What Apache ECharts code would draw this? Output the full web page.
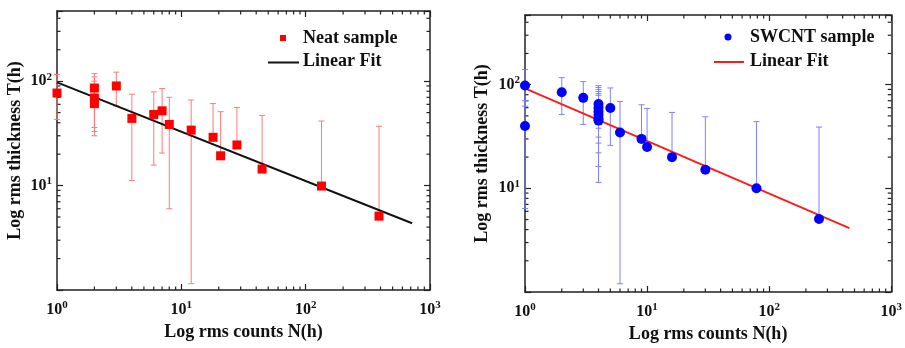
<!DOCTYPE html>
<html><head><meta charset="utf-8">
<script src="https://cdn.jsdelivr.net/npm/echarts@6/dist/echarts.min.js"></script>
<style>html,body{margin:0;padding:0;background:#fff}#c{width:905px;height:348px}</style>
</head><body><div id="c"></div>
<script>
// ---------- data ----------
const xRange = [1, 1000];
const yRange = [1, 470];
const xMinorTicks = [2,3,4,5,6,7,8,9,20,30,40,50,60,70,80,90,200,300,400,500,600,700,800,900];
const yMinorTicks = [2,3,4,5,6,7,8,9,20,30,40,50,60,70,80,90,200,300,400];

// Left panel: Neat sample
const neatX       = [1, 2, 2, 2, 3, 4, 6, 7, 8, 12, 18, 20.7, 28, 44.6, 134, 389];
const neatY       = [77, 86, 69, 61, 90, 44, 48, 52, 38.5, 34, 29, 19.3, 24.5, 14.4, 9.9, 5.1];
const neatErrLow  = [43, 36, 33, 30, 58, 11.2, 15.7, 20.5, 6, 1.15, null, null, null, null, null, null];
const neatErrHigh = [116, 118, 110, 100, 122, 75, 79, 85, 70, 66, 61, 51, 56, 47, 41.5, 37];
const neatFitX = [1, 718];
const neatFitY = [97.5, 4.36];

// Right panel: SWCNT sample
const swX       = [1, 1, 2, 3, 4, 4, 4, 4, 4, 4, 5, 6, 9, 10, 16, 30, 78.7, 256];
const swY       = [98, 40, 84.5, 74.6, 65, 60, 55, 51, 47, 45, 59.6, 34.5, 30, 25, 20, 15.1, 10, 5.06];
const swErrLow  = [62, 6.4, 51.5, 41.4, 38, 31.2, 27.3, 22, 16.2, 11.4, 26, 1.2, null, null, null, null, null, null];
const swErrHigh = [140, 70, 117, 107, 98, 94, 90, 86, 82, 79, 93, 69, 64, 59, 54, 49, 44, 39];
const swFitX = [1, 454];
const swFitY = [92, 4.13];

const xTitle = 'Log rms counts N(h)';
const yTitle = 'Log rms thickness T(h)';
const neatName = 'Neat sample', swName = 'SWCNT sample', fitName = 'Linear Fit';

// ---------- helpers ----------
const FONT = '"Liberation Serif", "Times New Roman", serif';
const INK = '#111';
const zip = (a, b) => a.map((v, i) => [v, b[i]]);

function powLabel(hideOne) {
  return function (v) {
    const l = Math.log10(v);
    const e = Math.round(l);
    if (Math.abs(l - e) > 1e-6) return '';
    if (hideOne && e === 0) return '';
    return '10{s|' + e + '}';
  };
}
const richSup = { s: { fontSize: 11, fontWeight: 'bold', fontFamily: FONT, color: INK, padding: [0, 0, 9, 0] } };

function axisBase(gi, pos, isX, showLabel, nameOpt) {
  const a = {
    type: 'log', logBase: 10, gridIndex: gi, position: pos,
    min: isX ? xRange[0] : yRange[0], max: isX ? xRange[1] : yRange[1],
    axisLine: { show: true, onZero: false, lineStyle: { color: '#222', width: 1.5 } },
    axisTick: { show: true, inside: true, length: 6, lineStyle: { color: '#222', width: 1.2 } },
    splitLine: { show: false },
    axisLabel: showLabel ? {
      formatter: powLabel(!isX), rich: richSup, color: INK, fontFamily: FONT,
      fontWeight: 'bold', fontSize: 16, margin: isX ? 10 : 5
    } : { show: false }
  };
  if (nameOpt) Object.assign(a, nameOpt);
  return a;
}

function errRender(lowArr, highArr, color) {
  return function (params, api) {
    const i = params.dataIndex;
    const x = api.value(0), y = api.value(1);
    const lo = lowArr[i] == null ? y : lowArr[i];
    const pl = api.coord([x, lo]);
    const ph = api.coord([x, highArr[i]]);
    const st = { stroke: color, lineWidth: 1 };
    const ch = [
      { type: 'line', shape: { x1: pl[0], y1: pl[1], x2: ph[0], y2: ph[1] }, style: st },
      { type: 'line', shape: { x1: ph[0] - 3, y1: ph[1], x2: ph[0] + 3, y2: ph[1] }, style: st }
    ];
    if (lowArr[i] != null) ch.push({ type: 'line', shape: { x1: pl[0] - 3, y1: pl[1], x2: pl[0] + 3, y2: pl[1] }, style: st });
    return { type: 'group', children: ch };
  };
}
function xMinorRender(params, api) {
  const v = api.value(0);
  const b = api.coord([v, yRange[0]]), t = api.coord([v, yRange[1]]);
  const st = { stroke: '#222', lineWidth: 1.2 };
  return { type: 'group', children: [
    { type: 'line', shape: { x1: b[0], y1: b[1], x2: b[0], y2: b[1] - 3.5 }, style: st },
    { type: 'line', shape: { x1: t[0], y1: t[1], x2: t[0], y2: t[1] + 3.5 }, style: st }
  ] };
}
function yMinorRender(params, api) {
  const v = api.value(1);
  const l = api.coord([xRange[0], v]), r = api.coord([xRange[1], v]);
  const st = { stroke: '#222', lineWidth: 1.2 };
  return { type: 'group', children: [
    { type: 'line', shape: { x1: l[0], y1: l[1], x2: l[0] + 3.5, y2: l[1] }, style: st },
    { type: 'line', shape: { x1: r[0], y1: r[1], x2: r[0] - 3.5, y2: r[1] }, style: st }
  ] };
}

const nameStyle = { fontFamily: FONT, fontWeight: 'bold', fontSize: 18, color: INK };

function panel(gi, cfg) {
  const xa = 2 * gi, ya = 2 * gi;
  const xAxes = [
    axisBase(gi, 'bottom', true, true, { name: xTitle, nameLocation: 'middle', nameGap: cfg.xGap, nameTextStyle: nameStyle }),
    axisBase(gi, 'top', true, false)
  ];
  const yAxes = [
    axisBase(gi, 'left', false, true, { name: yTitle, nameLocation: 'middle', nameGap: cfg.yGap, nameTextStyle: nameStyle }),
    axisBase(gi, 'right', false, false)
  ];
  const series = [
    { type: 'custom', name: 'xminor' + gi, xAxisIndex: xa, yAxisIndex: ya, renderItem: xMinorRender,
      data: xMinorTicks.map(v => [v, yRange[0]]), silent: true, z: 1, clip: false },
    { type: 'custom', name: 'yminor' + gi, xAxisIndex: xa, yAxisIndex: ya, renderItem: yMinorRender,
      data: yMinorTicks.map(v => [xRange[0], v]), silent: true, z: 1, clip: false },
    { type: 'custom', name: cfg.name + ' err', xAxisIndex: xa, yAxisIndex: ya,
      renderItem: errRender(cfg.lo, cfg.hi, cfg.errColor), data: zip(cfg.x, cfg.y), z: 2, clip: false },
    { type: 'line', name: fitName, xAxisIndex: xa, yAxisIndex: ya, data: zip(cfg.fitX, cfg.fitY),
      showSymbol: false, lineStyle: { color: cfg.fitColor, width: cfg.fitWidth }, z: 3 },
    { type: 'scatter', name: cfg.name, xAxisIndex: xa, yAxisIndex: ya, data: zip(cfg.x, cfg.y),
      symbol: cfg.symbol, symbolSize: cfg.symbolSize, itemStyle: { color: cfg.color, opacity: 1 }, z: 4, clip: false }
  ];
  return { xAxes, yAxes, series };
}

const L = panel(0, { name: neatName, x: neatX, y: neatY, lo: neatErrLow, hi: neatErrHigh, errColor: '#ff7a7a',
  fitX: neatFitX, fitY: neatFitY, fitColor: '#111', fitWidth: 2, symbol: 'rect', symbolSize: 9, color: '#ff0000', xGap: 32, yGap: 33 });
const R = panel(1, { name: swName, x: swX, y: swY, lo: swErrLow, hi: swErrHigh, errColor: '#8080ff',
  fitX: swFitX, fitY: swFitY, fitColor: '#ff1a1a', fitWidth: 1.8, symbol: 'circle', symbolSize: 10, color: '#0000ff', xGap: 33, yGap: 34 });

const legendText = (x, y, t) => ({ type: 'text', x, y, style: { text: t, font: 'bold 18px ' + FONT, fill: INK, verticalAlign: 'middle' } });

const option = {
  animation: false,
  backgroundColor: '#fff',
  grid: [
    { left: 57, top: 11, width: 373, height: 279 },
    { left: 525, top: 15, width: 377, height: 282 }
  ],
  xAxis: L.xAxes.concat(R.xAxes),
  yAxis: L.yAxes.concat(R.yAxes),
  series: L.series.concat(R.series),
  graphic: [
    { type: 'rect', shape: { x: 280, y: 35, width: 6, height: 6 }, style: { fill: '#ff0000' } },
    legendText(303, 38, neatName),
    { type: 'line', shape: { x1: 268, y1: 62.5, x2: 299, y2: 62.5 }, style: { stroke: '#111', lineWidth: 2 } },
    legendText(303, 61, fitName),
    { type: 'circle', shape: { cx: 728, cy: 37, r: 3.5 }, style: { fill: '#0000ff' } },
    legendText(750, 37, swName),
    { type: 'line', shape: { x1: 714, y1: 62, x2: 744, y2: 62 }, style: { stroke: '#ff1a1a', lineWidth: 2 } },
    legendText(750, 61, fitName)
  ]
};
const chart = echarts.init(document.getElementById('c'), null, { renderer: 'canvas' });
chart.setOption(option);
</script>
</body></html>
